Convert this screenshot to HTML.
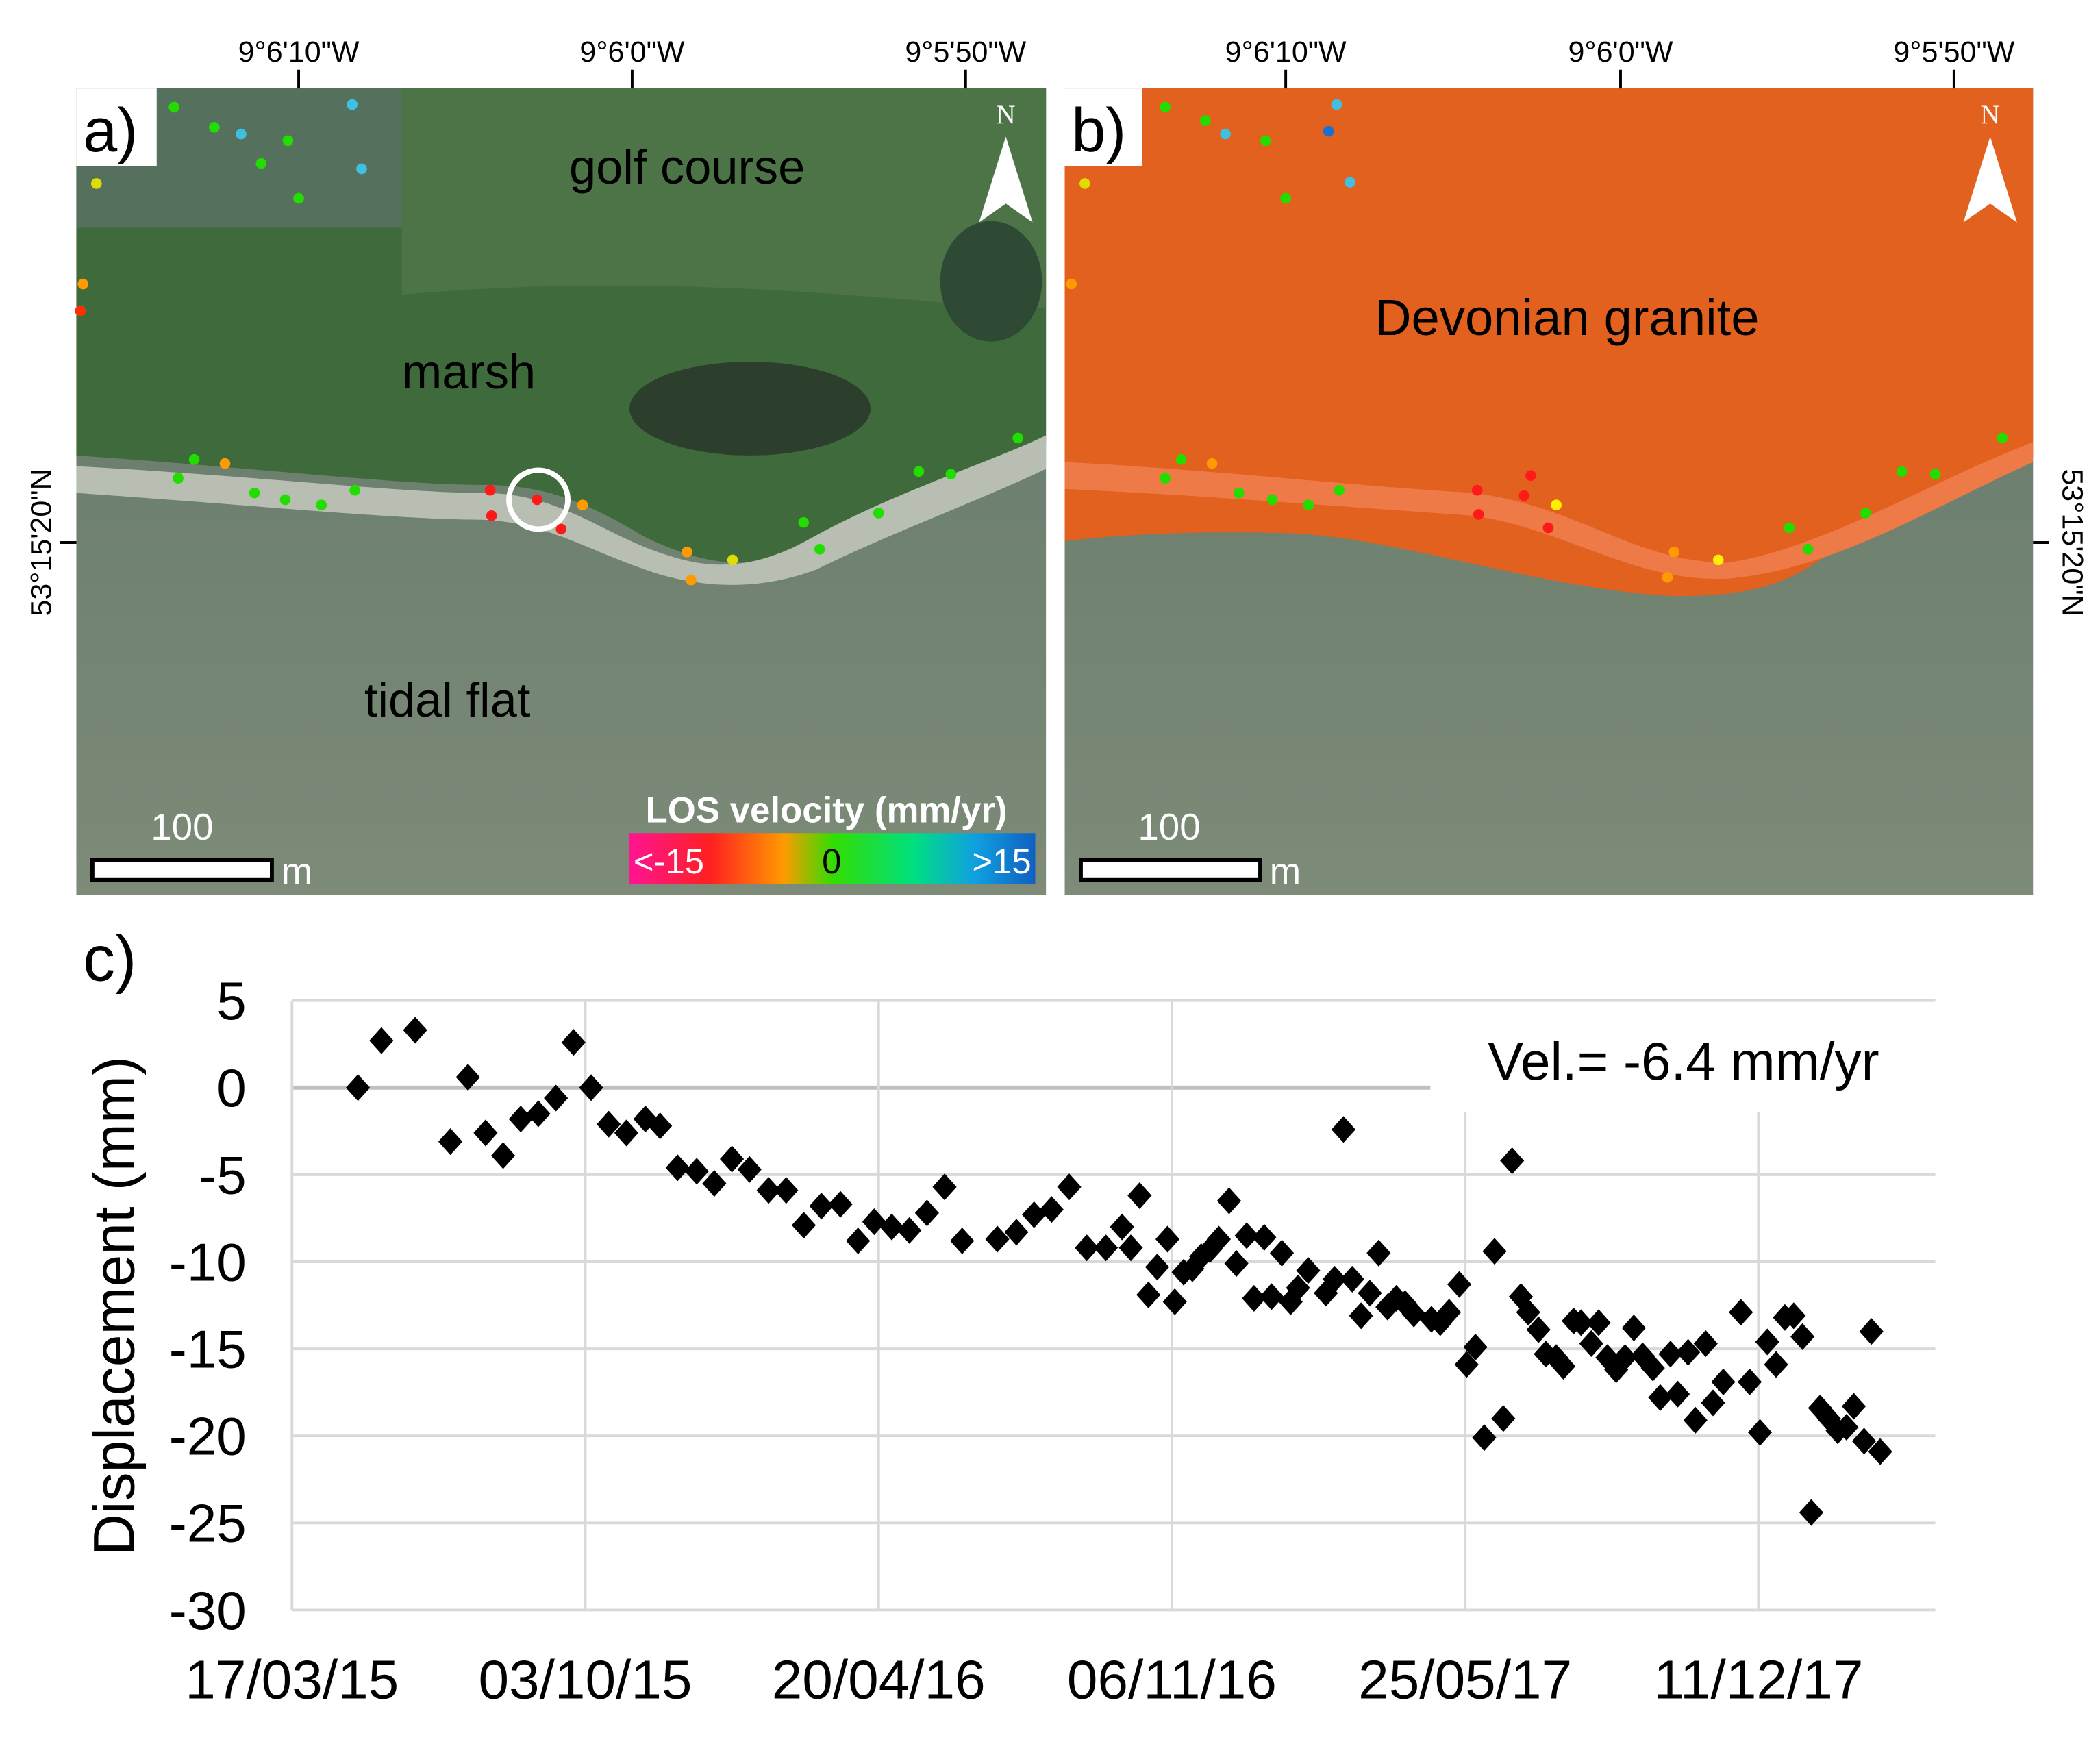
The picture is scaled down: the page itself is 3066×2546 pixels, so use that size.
<!DOCTYPE html>
<html><head><meta charset="utf-8"><style>
html,body{margin:0;padding:0;background:#fff;}
svg{display:block;font-family:"Liberation Sans",sans-serif;}
</style></head><body>
<svg id="fig" width="3066" height="2546" viewBox="0 0 1568 1302" xmlns="http://www.w3.org/2000/svg">
<defs>
<linearGradient id="cbar" x1="0" x2="1" y1="0" y2="0">
<stop offset="0" stop-color="#ff1493"/><stop offset="0.2" stop-color="#ff2020"/><stop offset="0.38" stop-color="#ff9a00"/><stop offset="0.5" stop-color="#33dd00"/><stop offset="0.7" stop-color="#00e080"/><stop offset="0.85" stop-color="#10a0e0"/><stop offset="1" stop-color="#1060c0"/>
</linearGradient>
<linearGradient id="tidal" x1="0" x2="0" y1="0" y2="1"><stop offset="0" stop-color="#5f7566"/><stop offset="1" stop-color="#7d8b78"/></linearGradient>
</defs>
<g>
<rect x="57" y="66" width="724" height="602" fill="url(#tidal)"/>
<path d="M57 66 H781 V330 C740 360 640 380 590 410 C560 428 520 420 480 400 C430 370 400 362 360 362 C300 362 200 350 57 340 Z" fill="#3f6a3c"/>
<path d="M57 66 H300 V170 H57Z" fill="#56705e"/>
<path d="M300 66 H781 V230 C700 230 520 200 300 220Z" fill="#4c7447"/>
<ellipse cx="560" cy="305" rx="90" ry="35" fill="#2c3f2c"/>
<ellipse cx="740" cy="210" rx="38" ry="45" fill="#2f4a34"/>
<path d="M57 348 C200 356 300 368 360 368 C420 368 450 400 500 415 C540 428 570 420 600 405 C660 370 740 345 781 325 V350 C740 370 660 400 610 425 C570 440 530 440 490 428 C440 412 410 390 360 388 C300 388 200 378 57 368Z" fill="#b8bfb2"/>
<rect x="57" y="66" width="60" height="58" fill="#fff"/>
<text x="62" y="113" font-size="46">a)</text>
<text x="425" y="137" font-size="36">golf course</text>
<text x="300" y="290" font-size="36">marsh</text>
<text x="272" y="535" font-size="36">tidal flat</text>
<circle cx="402" cy="373" r="22" fill="none" stroke="#fff" stroke-width="4"/>
<g>
<circle cx="145" cy="343" r="4" fill="#22dd00"/><circle cx="168" cy="346" r="4" fill="#ff9a00"/><circle cx="133" cy="357" r="4" fill="#22dd00"/><circle cx="190" cy="368" r="4" fill="#22dd00"/><circle cx="213" cy="373" r="4" fill="#22dd00"/><circle cx="240" cy="377" r="4" fill="#22dd00"/><circle cx="265" cy="366" r="4" fill="#22dd00"/>
<circle cx="366" cy="366" r="4" fill="#ff1a1a"/><circle cx="401" cy="373" r="4" fill="#ff1a1a"/><circle cx="367" cy="385" r="4" fill="#ff1a1a"/><circle cx="419" cy="395" r="4" fill="#ff1a1a"/><circle cx="435" cy="377" r="4" fill="#ff9a00"/>
<circle cx="513" cy="412" r="4" fill="#ff9a00"/><circle cx="516" cy="433" r="4" fill="#ff9a00"/><circle cx="547" cy="418" r="4" fill="#dddd00"/><circle cx="600" cy="390" r="4" fill="#22dd00"/><circle cx="612" cy="410" r="4" fill="#22dd00"/><circle cx="656" cy="383" r="4" fill="#22dd00"/><circle cx="686" cy="352" r="4" fill="#22dd00"/><circle cx="710" cy="354" r="4" fill="#22dd00"/><circle cx="760" cy="327" r="4" fill="#22dd00"/>
<circle cx="72" cy="137" r="4" fill="#dddd00"/><circle cx="223" cy="148" r="4" fill="#22dd00"/><circle cx="130" cy="80" r="4" fill="#22dd00"/><circle cx="160" cy="95" r="4" fill="#22dd00"/><circle cx="180" cy="100" r="4" fill="#40c0e0"/><circle cx="263" cy="78" r="4" fill="#40c0e0"/><circle cx="270" cy="126" r="4" fill="#40c0e0"/><circle cx="215" cy="105" r="4" fill="#22dd00"/><circle cx="195" cy="122" r="4" fill="#22dd00"/><circle cx="62" cy="212" r="4" fill="#ff9a00"/><circle cx="60" cy="232" r="4" fill="#ff3000"/>
</g>
<text x="617" y="614" font-size="27" font-weight="bold" fill="#fff" text-anchor="middle">LOS velocity (mm/yr)</text>
<rect x="470" y="622" width="303" height="38" fill="url(#cbar)"/>
<text x="473" y="652" font-size="26" fill="#fff">&lt;-15</text>
<text x="621" y="652" font-size="26" text-anchor="middle">0</text>
<text x="770" y="652" font-size="26" fill="#fff" text-anchor="end">&gt;15</text>
<text x="136" y="627" font-size="28" fill="#fff" text-anchor="middle">100</text>
<rect x="69" y="642" width="134" height="15" fill="#fff" stroke="#000" stroke-width="3"/>
<text x="210" y="660" font-size="28" fill="#fff">m</text>
<text x="751" y="92" font-size="20" fill="#fff" text-anchor="middle" font-family="Liberation Serif,serif">N</text>
<path d="M751 102 L771 166 L751 152 L731 166Z" fill="#fff"/>
</g>
<g>
<rect x="795" y="66" width="723" height="602" fill="url(#tidal)"/>
<path d="M795 66 H1518 V340 C1480 360 1420 380 1380 400 C1340 440 1300 445 1250 445 C1150 440 1040 400 960 398 C880 396 830 400 795 404Z" fill="#e2611f"/>
<path d="M795 345 C900 350 1000 362 1100 368 C1180 378 1220 420 1290 420 C1360 410 1440 360 1518 330 V345 C1440 380 1370 425 1290 432 C1220 435 1170 395 1100 385 C1000 378 900 370 795 365Z" fill="#ee7a48"/>
<rect x="795" y="66" width="58" height="58" fill="#fff"/>
<text x="800" y="113" font-size="46">b)</text>
<text x="1170" y="250" font-size="38" text-anchor="middle">Devonian granite</text>
<g>
<circle cx="882" cy="343" r="4" fill="#22dd00"/><circle cx="905" cy="346" r="4" fill="#ff9a00"/><circle cx="870" cy="357" r="4" fill="#22dd00"/><circle cx="925" cy="368" r="4" fill="#22dd00"/><circle cx="950" cy="373" r="4" fill="#22dd00"/><circle cx="977" cy="377" r="4" fill="#22dd00"/><circle cx="1000" cy="366" r="4" fill="#22dd00"/>
<circle cx="1103" cy="366" r="4" fill="#ff1a1a"/><circle cx="1143" cy="355" r="4" fill="#ff1a1a"/><circle cx="1104" cy="384" r="4" fill="#ff1a1a"/><circle cx="1156" cy="394" r="4" fill="#ff1a1a"/><circle cx="1138" cy="370" r="4" fill="#ff1a1a"/><circle cx="1162" cy="377" r="4" fill="#ffee00"/>
<circle cx="1250" cy="412" r="4" fill="#ff9a00"/><circle cx="1245" cy="431" r="4" fill="#ff9a00"/><circle cx="1283" cy="418" r="4" fill="#ffee00"/><circle cx="1336" cy="394" r="4" fill="#22dd00"/><circle cx="1350" cy="410" r="4" fill="#22dd00"/><circle cx="1393" cy="383" r="4" fill="#22dd00"/><circle cx="1420" cy="352" r="4" fill="#22dd00"/><circle cx="1445" cy="354" r="4" fill="#22dd00"/><circle cx="1495" cy="327" r="4" fill="#22dd00"/>
<circle cx="810" cy="137" r="4" fill="#dddd00"/><circle cx="960" cy="148" r="4" fill="#22dd00"/><circle cx="870" cy="80" r="4" fill="#22dd00"/><circle cx="900" cy="90" r="4" fill="#22dd00"/><circle cx="915" cy="100" r="4" fill="#40c0e0"/><circle cx="998" cy="78" r="4" fill="#40c0e0"/><circle cx="992" cy="98" r="4" fill="#1a70d0"/><circle cx="1008" cy="136" r="4" fill="#40c0e0"/><circle cx="945" cy="105" r="4" fill="#22dd00"/><circle cx="800" cy="212" r="4" fill="#ff9a00"/>
</g>
<text x="873" y="627" font-size="28" fill="#fff" text-anchor="middle">100</text>
<rect x="807" y="642" width="134" height="15" fill="#fff" stroke="#000" stroke-width="3"/>
<text x="948" y="660" font-size="28" fill="#fff">m</text>
<text x="1486" y="92" font-size="20" fill="#fff" text-anchor="middle" font-family="Liberation Serif,serif">N</text>
<path d="M1486 102 L1506 166 L1486 152 L1466 166Z" fill="#fff"/>
</g>
<g font-size="22" text-anchor="middle">
<text x="223" y="46">9°6'10"W</text><text x="472" y="46">9°6'0"W</text><text x="721" y="46">9°5'50"W</text>
<text x="960" y="46">9°6'10"W</text><text x="1210" y="46">9°6'0"W</text><text x="1459" y="46">9°5'50"W</text>
<g stroke="#000" stroke-width="2"><line x1="223" y1="52" x2="223" y2="66"/><line x1="472" y1="52" x2="472" y2="66"/><line x1="721" y1="52" x2="721" y2="66"/><line x1="960" y1="52" x2="960" y2="66"/><line x1="1210" y1="52" x2="1210" y2="66"/><line x1="1459" y1="52" x2="1459" y2="66"/><line x1="45" y1="405" x2="57" y2="405"/><line x1="1518" y1="405" x2="1530" y2="405"/></g>
<text transform="translate(38,405) rotate(-90)">53°15'20"N</text>
<text transform="translate(1540,405) rotate(90)">53°15'20"N</text>
</g>
<text x="62" y="732" font-size="48">c)</text>
<g id="chart"></g>
</svg>
<script>
const yTicks=[5,0,-5,-10,-15,-20,-25,-30];
const xTickLabels=["17/03/15","03/10/15","20/04/16","06/11/16","25/05/17","11/12/17"];
const xTickDays=[0,200,400,600,800,1000];
const days=[45,61,84,108,120,132,144,156,168,180,192,204,216,228,241,251,263,276,288,300,312,325,337,349,361,374,386,397,409,421,433,445,457,481,494,506,518,530,542,555,566,572,578,584,590,597,602,608,614,620,626,632,639,644,651,656,663,668,675,681,686,693,705,711,717,723,729,735,741,747,753,759,765,777,783,789,796,801,807,813,820,826,832,838,843,850,855,862,867,874,879,886,891,897,903,909,915,921,928,933,940,945,952,957,964,969,976,988,994,1001,1006,1012,1018,1024,1030,1036,1042,1048,1054,1060,1065,1072,1077,1083];
const disp=[0,2.7,3.3,-3.1,0.6,-2.6,-3.9,-1.8,-1.5,-0.6,2.6,0,-2.1,-2.6,-1.8,-2.2,-4.6,-4.8,-5.5,-4.1,-4.7,-5.9,-5.9,-7.9,-6.8,-6.7,-8.8,-7.7,-8.0,-8.2,-7.2,-5.7,-8.8,-8.7,-8.3,-7.3,-7.0,-5.7,-9.2,-9.2,-8.0,-9.2,-6.2,-11.9,-10.3,-8.7,-12.3,-10.6,-10.4,-9.7,-9.3,-8.7,-6.5,-10.1,-8.5,-12.1,-8.6,-12.0,-9.5,-12.3,-11.5,-10.5,-11.8,-11.0,-2.4,-11.0,-13.1,-11.8,-9.5,-12.6,-12.1,-12.4,-13.0,-13.3,-13.5,-12.9,-11.3,-15.9,-14.9,-20.1,-9.4,-19.0,-4.2,-12.0,-12.9,-13.9,-15.3,-15.5,-16.0,-13.4,-13.5,-14.7,-13.5,-15.5,-16.2,-15.5,-13.8,-15.4,-16.1,-17.8,-15.3,-17.6,-15.2,-19.1,-14.7,-18.1,-16.9,-12.9,-16.9,-19.8,-14.6,-15.9,-13.2,-13.1,-14.3,-24.4,-18.4,-19.0,-19.7,-19.5,-18.3,-20.3,-14.0,-20.9];
const NS="http://www.w3.org/2000/svg";
const g=document.getElementById('chart');
const X0=218,X1=1445,Y0=812,PPD=219/200,PPMM=13;
function xs(d){return X0+d*PPD;}
function ys(v){return Y0-v*PPMM;}
function mk(tag,attrs){const e=document.createElementNS(NS,tag);for(const k in attrs)e.setAttribute(k,attrs[k]);g.appendChild(e);return e;}
yTicks.forEach(v=>{
 const l=mk('line',{x1:X0,x2:(v===0?1068:X1),y1:ys(v),y2:ys(v),stroke:(v===0?'#bfbfbf':'#d9d9d9'),'stroke-width':(v===0?3:2)});
 
 
 const t=mk('text',{x:X0-34,y:ys(v)+14,'font-size':40,'text-anchor':'end'});t.textContent=v;
 
 
});
xTickDays.forEach((d,i)=>{
 const top=(xs(d)>1068)?830:ys(5);
 const l=mk('line',{x1:xs(d),x2:xs(d),y1:top,y2:ys(-30),stroke:'#d9d9d9','stroke-width':2});
 
 
 const t=mk('text',{x:xs(d),y:1268,'font-size':41,'text-anchor':'middle'});t.textContent=xTickLabels[i];
 
 
});
days.forEach((d,i)=>{
 const x=xs(d),y=ys(disp[i]);
 const p=mk('path',{d:`M${x} ${y-10}L${x+9} ${y}L${x} ${y+10}L${x-9} ${y}Z`,fill:'#000'});
 
 
});
const yt=mk('text',{transform:'translate(100,975) rotate(-90)','font-size':43,'text-anchor':'middle'});yt.textContent='Displacement (mm)';


const vt=mk('text',{x:1257,y:806,'font-size':40,'text-anchor':'middle'});vt.textContent='Vel.= -6.4 mm/yr';


</script>
</body></html>
